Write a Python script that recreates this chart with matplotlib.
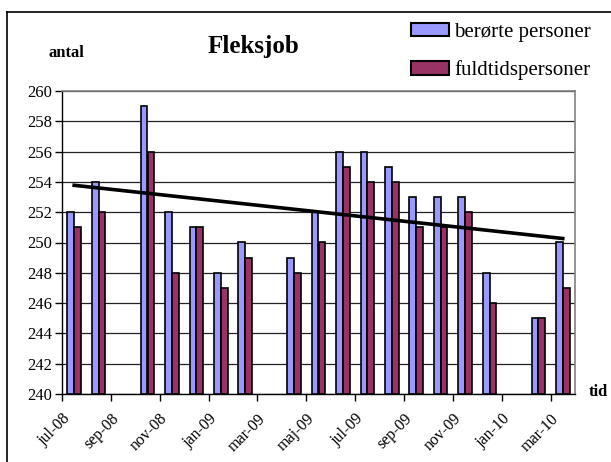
import numpy as np
import matplotlib.pyplot as plt
from matplotlib.patches import Patch
from matplotlib.lines import Line2D

plt.rcParams['font.family'] = ['Liberation Serif', 'DejaVu Serif']

# months jul-08 .. mar-10 (nan = no data)
MONTHS = np.arange(21)
BEROERTE = [252, 254, np.nan, 259, 252, 251, 248, 250, np.nan, 249, 252,
            256, 256, 255, 253, 253, 253, 248, np.nan, 245, 250]
FULDTID = [251, 252, np.nan, 256, 248, 251, 247, 249, np.nan, 248, 250,
           255, 254, 254, 251, 251, 252, 246, np.nan, 245, 247]
TICK_LABELS = ['jul-08', 'sep-08', 'nov-08', 'jan-09', 'mar-09', 'maj-09',
               'jul-09', 'sep-09', 'nov-09', 'jan-10', 'mar-10']

BLUE = '#9999ff'
PLUM = '#993366'


def main():
    fig = plt.figure(figsize=(6.11, 4.62), dpi=100)
    ax = fig.add_axes([62 / 611, 1 - 394 / 462, 513 / 611, 303 / 462])

    b = np.array(BEROERTE, dtype=float)
    f = np.array(FULDTID, dtype=float)
    w = 0.28
    ok = ~np.isnan(b)
    ax.bar(MONTHS[ok] - w / 2, b[ok] - 240, w, bottom=240, color=BLUE,
           edgecolor='black', linewidth=1.2, zorder=3)
    ax.bar(MONTHS[ok] + w / 2, f[ok] - 240, w, bottom=240, color=PLUM,
           edgecolor='black', linewidth=1.2, zorder=3)

    # linear trend of berørte personer
    k, m = np.polyfit(MONTHS[ok], b[ok], 1)
    xs = np.array([MONTHS[0], MONTHS[-1]])
    ax.plot(xs, k * xs + m, color='black', lw=2.6, zorder=4)

    ax.set_xlim(-0.5, 20.5)
    ax.set_ylim(240, 260)
    ax.set_yticks(np.arange(240, 261, 2))
    ax.set_xticks(np.arange(-0.5, 20.5, 2))
    ax.set_xticklabels(TICK_LABELS, rotation=45, ha='right',
                       rotation_mode='anchor', fontsize=11.5)
    ax.tick_params(axis='y', labelsize=12, length=5, width=1, pad=2)
    ax.tick_params(axis='x', length=5, width=1, pad=7)
    ax.grid(axis='y', color='#222222', lw=0.9, zorder=0)
    for s in ['top', 'right']:
        ax.spines[s].set_color('#808080')
        ax.spines[s].set_linewidth(1.2)
    for s in ['left', 'bottom']:
        ax.spines[s].set_color('black')
        ax.spines[s].set_linewidth(1)

    fig.text(253 / 611, 1 - 47 / 462, 'Fleksjob', fontsize=18,
             fontweight='bold', ha='center', va='center')
    fig.text(66 / 611, 1 - 53 / 462, 'antal', fontsize=12,
             fontweight='bold', ha='center', va='center')
    fig.text(598 / 611, 1 - 392 / 462, 'tid', fontsize=12,
             fontweight='bold', ha='center', va='center')

    handles = [Patch(facecolor=BLUE, edgecolor='black', lw=1.5),
               Patch(facecolor=PLUM, edgecolor='black', lw=1.5)]
    fig.legend(handles, ['berørte personer', 'fuldtidspersoner'],
               loc='upper left', bbox_to_anchor=(392 / 611, 1 - 4 / 462),
               frameon=False, fontsize=15, handlelength=1.85,
               handleheight=0.6, handletextpad=0.25, labelspacing=0.9)

    # chart area border
    fig.add_artist(Line2D([7 / 611, 7 / 611], [0, 1 - 12 / 462],
                          transform=fig.transFigure, color='black', lw=1.2))
    fig.add_artist(Line2D([7 / 611, 1], [1 - 12 / 462, 1 - 12 / 462],
                          transform=fig.transFigure, color='black', lw=1.2))

    fig.savefig('out.png', dpi=100)


if __name__ == "__main__":
    main()
